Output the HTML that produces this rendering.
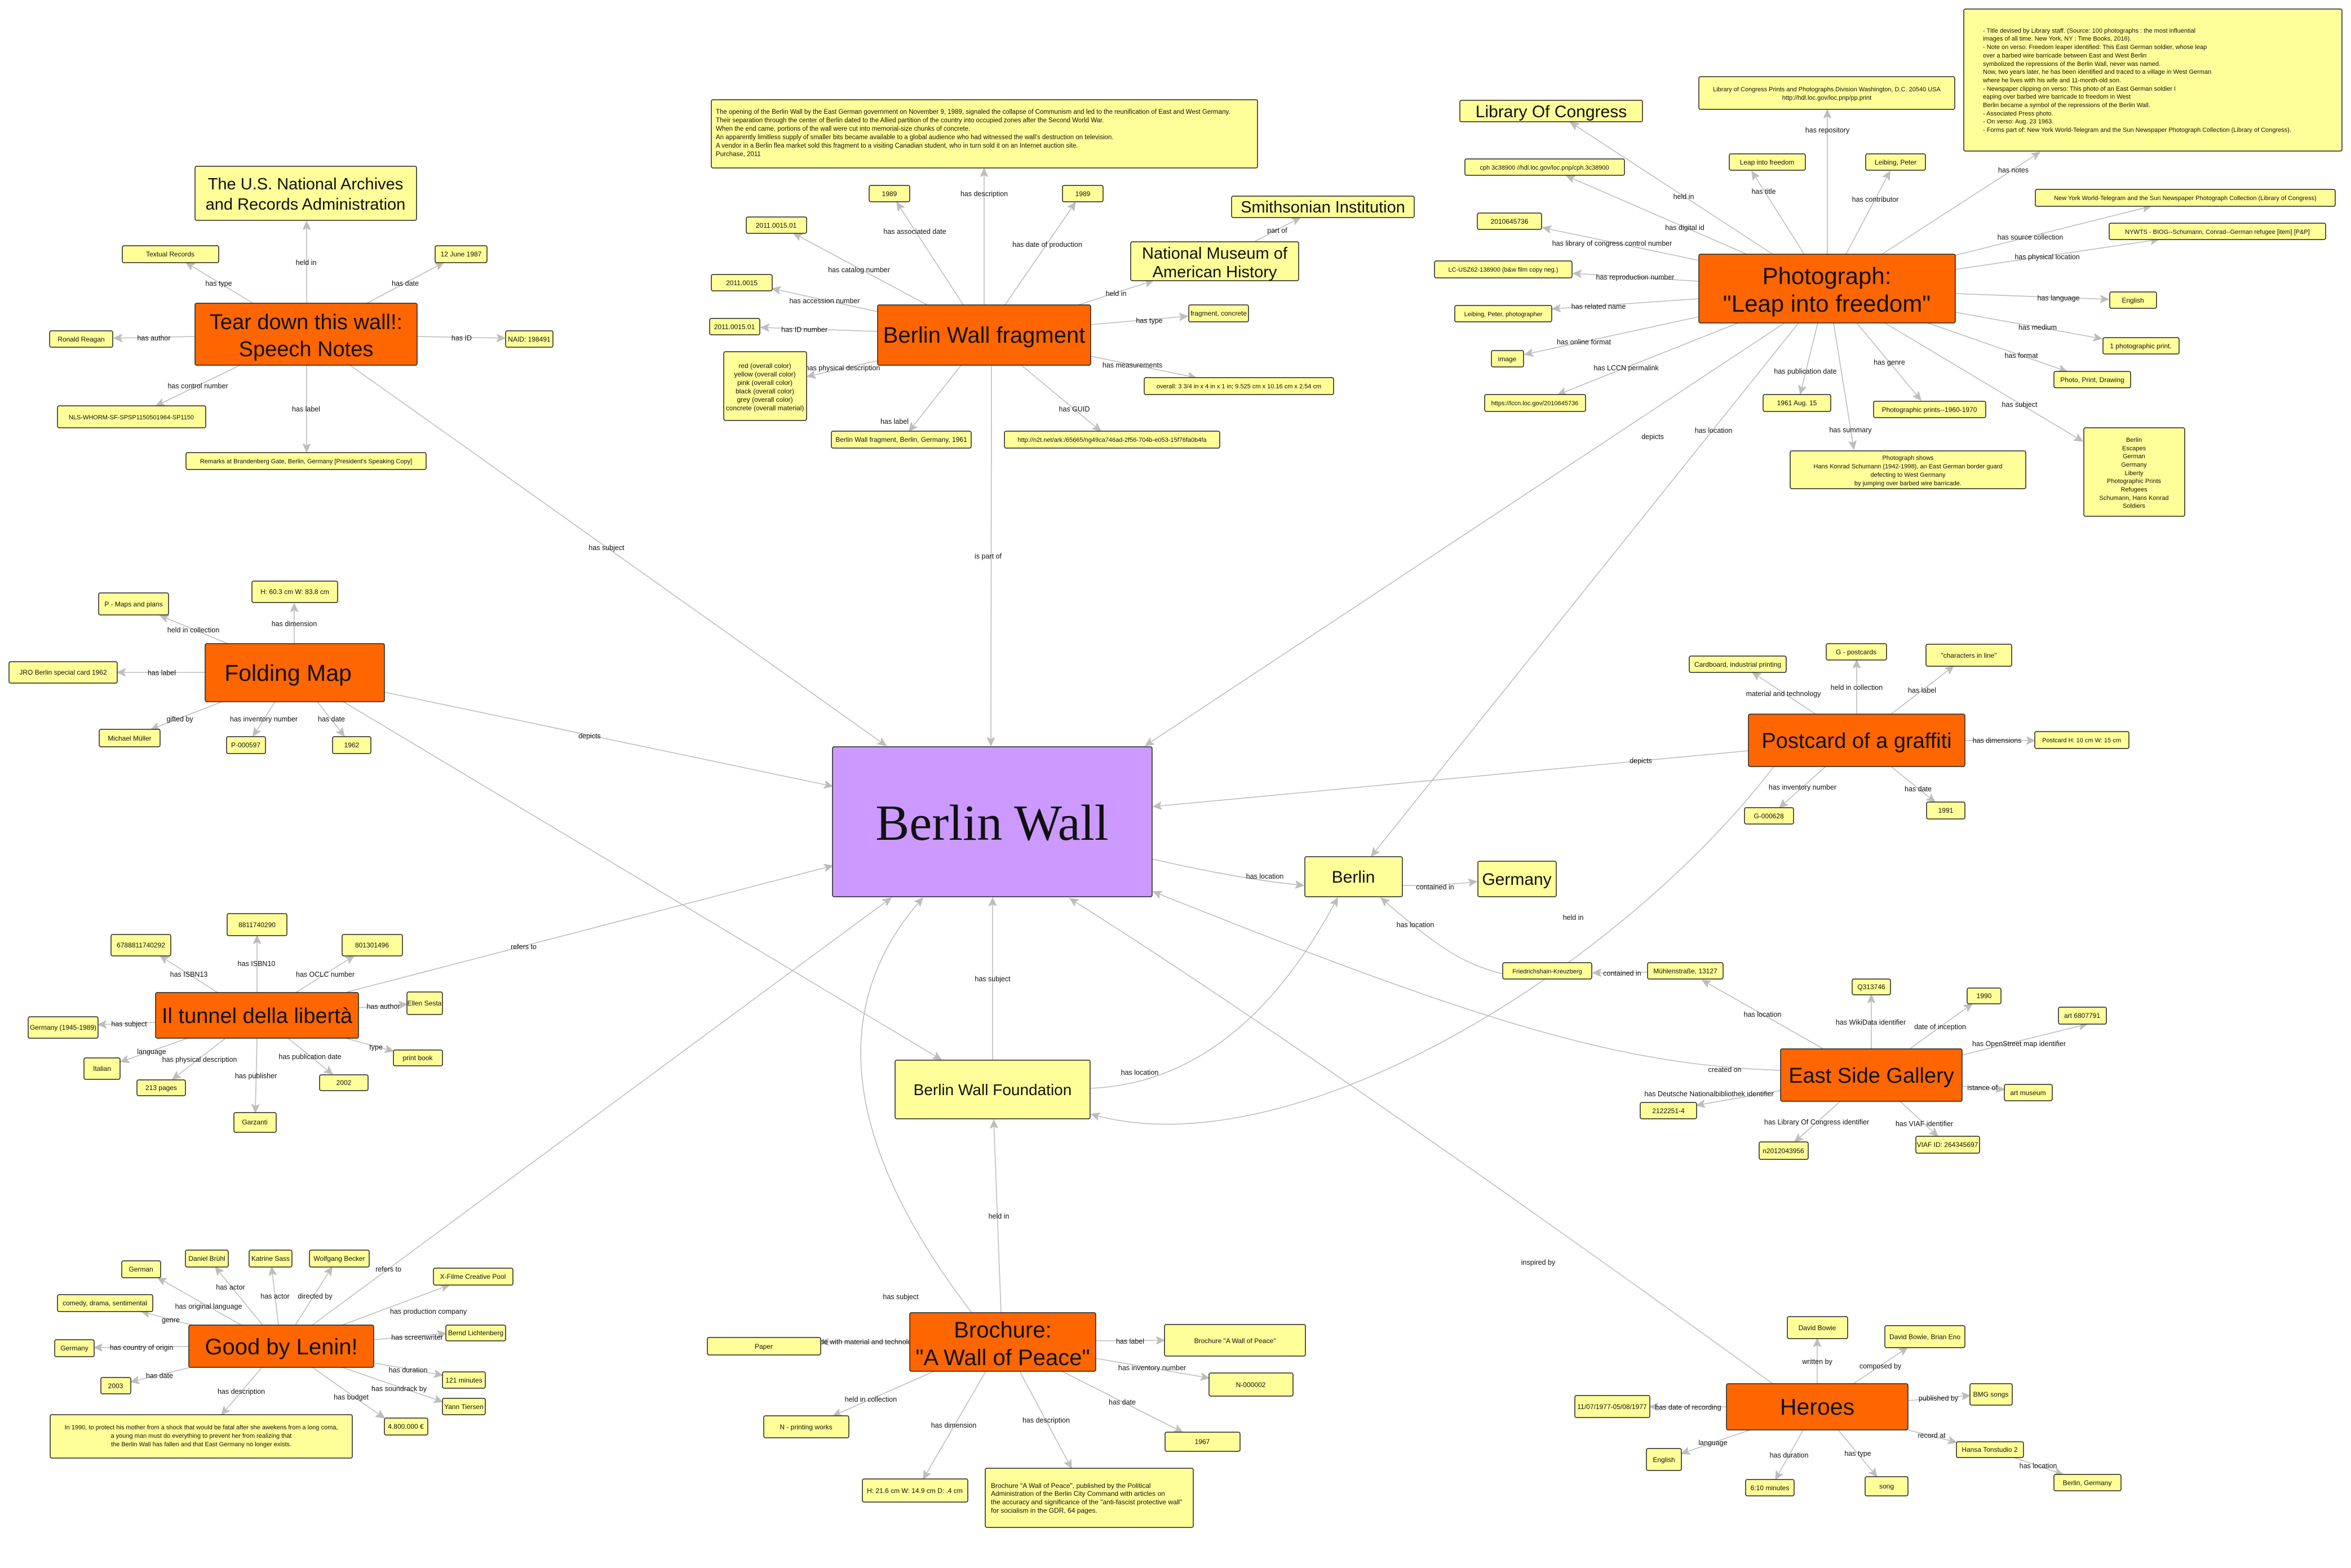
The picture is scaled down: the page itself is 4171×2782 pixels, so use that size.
<!DOCTYPE html>
<html><head><meta charset="utf-8"><style>
html,body{margin:0;padding:0;background:#fff}
svg{display:block}
.e line,.e path{stroke:#bdbdbd;stroke-width:1.6;fill:none;marker-end:url(#a)}
.y{fill:#ffff99;stroke:#222;stroke-width:1.5}
.o{fill:#ff6600;stroke:#222;stroke-width:1.5}
.p{fill:#cc99ff;stroke:#222;stroke-width:1.5}
text{font-family:"Liberation Sans",Arial,sans-serif;fill:#111}
.s{font-size:12px;text-anchor:middle}
.l{font-size:12.5px;text-anchor:middle;fill:#333}
.t{font-size:11px}
.c{text-anchor:middle}
</style></head><body>
<svg width="4171" height="2782" viewBox="0 0 4171 2782" xmlns="http://www.w3.org/2000/svg">
<defs><marker id="a" viewBox="0 0 12 12" refX="11" refY="6" markerWidth="16" markerHeight="16" markerUnits="userSpaceOnUse" orient="auto"><path d="M0,1 L11,6 L0,11 L3,6 Z" fill="#bdbdbd" stroke="#bdbdbd" stroke-width="1"/></marker></defs>

<!-- EDGES -->
<g class="e">
<!-- Tear down -->
<line x1="544" y1="538" x2="544" y2="393"/>
<line x1="449" y1="538" x2="330" y2="466"/>
<line x1="651" y1="538" x2="787" y2="466"/>
<line x1="346" y1="597" x2="202" y2="600"/>
<line x1="740" y1="597" x2="896" y2="600"/>
<line x1="426" y1="648" x2="277" y2="720"/>
<line x1="544" y1="648" x2="544" y2="802"/>
<line x1="621" y1="648" x2="1572" y2="1323"/>
<!-- fragment -->
<line x1="1746" y1="541" x2="1746" y2="299"/>
<line x1="1709" y1="541" x2="1591" y2="359"/>
<line x1="1783" y1="541" x2="1908" y2="359"/>
<line x1="1645" y1="541" x2="1408" y2="414"/>
<line x1="1557" y1="553" x2="1370" y2="512"/>
<line x1="1557" y1="588" x2="1350" y2="581"/>
<line x1="1557" y1="640" x2="1432" y2="668"/>
<line x1="1705" y1="648" x2="1613" y2="765"/>
<line x1="1812" y1="648" x2="1953" y2="765"/>
<line x1="1935" y1="632" x2="2122" y2="670"/>
<line x1="1935" y1="576" x2="2107" y2="561"/>
<line x1="1913" y1="541" x2="2046" y2="498"/>
<line x1="2225" y1="429" x2="2307" y2="386"/>
<line x1="1759" y1="648" x2="1758" y2="1323"/>
<!-- photograph -->
<line x1="3145" y1="451" x2="2786" y2="217"/>
<line x1="3201" y1="451" x2="3108" y2="304"/>
<line x1="3242" y1="451" x2="3242" y2="195"/>
<line x1="3275" y1="451" x2="3353" y2="304"/>
<line x1="3339" y1="451" x2="3619" y2="270"/>
<line x1="3099" y1="451" x2="2779" y2="312"/>
<line x1="3014" y1="462" x2="2737" y2="404"/>
<line x1="3014" y1="499" x2="2791" y2="485"/>
<line x1="3014" y1="530" x2="2754" y2="548"/>
<line x1="3014" y1="562" x2="2705" y2="629"/>
<line x1="3084" y1="573" x2="2764" y2="700"/>
<line x1="3225" y1="573" x2="3194" y2="699"/>
<line x1="3294" y1="573" x2="3408" y2="710"/>
<line x1="3253" y1="573" x2="3289" y2="797"/>
<line x1="3344" y1="573" x2="3695" y2="783"/>
<line x1="3420" y1="573" x2="3667" y2="659"/>
<line x1="3469" y1="554" x2="3729" y2="601"/>
<line x1="3469" y1="521" x2="3741" y2="531"/>
<line x1="3469" y1="478" x2="3830" y2="425"/>
<line x1="3469" y1="453" x2="3816" y2="366"/>
<line x1="3166" y1="573" x2="2032" y2="1323"/>
<line x1="3191" y1="573" x2="2433" y2="1519"/>
<!-- folding map -->
<line x1="404" y1="1142" x2="284" y2="1092"/>
<line x1="522" y1="1142" x2="522" y2="1071"/>
<line x1="364" y1="1193" x2="208" y2="1193"/>
<line x1="394" y1="1245" x2="268" y2="1294"/>
<line x1="488" y1="1245" x2="449" y2="1306"/>
<line x1="563" y1="1245" x2="611" y2="1306"/>
<line x1="682" y1="1228" x2="1477" y2="1395"/>
<line x1="609" y1="1245" x2="1670" y2="1880"/>
<!-- il tunnel -->
<line x1="386" y1="1761" x2="284" y2="1696"/>
<line x1="456" y1="1761" x2="456" y2="1660"/>
<line x1="525" y1="1761" x2="628" y2="1696"/>
<line x1="636" y1="1788" x2="722" y2="1782"/>
<line x1="276" y1="1814" x2="174" y2="1818"/>
<line x1="333" y1="1842" x2="214" y2="1884"/>
<line x1="400" y1="1842" x2="306" y2="1915"/>
<line x1="456" y1="1842" x2="453" y2="1974"/>
<line x1="511" y1="1842" x2="590" y2="1906"/>
<line x1="613" y1="1842" x2="698" y2="1865"/>
<line x1="616" y1="1760" x2="1477" y2="1536"/>
<!-- lenin -->
<line x1="428" y1="2351" x2="280" y2="2267"/>
<line x1="466" y1="2351" x2="382" y2="2248"/>
<line x1="494" y1="2351" x2="482" y2="2248"/>
<line x1="524" y1="2351" x2="589" y2="2248"/>
<line x1="607" y1="2351" x2="797" y2="2280"/>
<line x1="663" y1="2377" x2="791" y2="2366"/>
<line x1="335" y1="2389" x2="167" y2="2391"/>
<line x1="340" y1="2351" x2="251" y2="2327"/>
<line x1="338" y1="2426" x2="232" y2="2452"/>
<line x1="465" y1="2426" x2="393" y2="2510"/>
<line x1="663" y1="2418" x2="785" y2="2440"/>
<line x1="607" y1="2426" x2="785" y2="2487"/>
<line x1="554" y1="2426" x2="682" y2="2516"/>
<line x1="554" y1="2351" x2="1581" y2="1593"/>
<!-- brochure -->
<line x1="1614" y1="2381" x2="1456" y2="2381"/>
<line x1="1944" y1="2379" x2="2066" y2="2378"/>
<line x1="1944" y1="2410" x2="2145" y2="2445"/>
<line x1="1657" y1="2433" x2="1478" y2="2512"/>
<line x1="1749" y1="2433" x2="1638" y2="2624"/>
<line x1="1809" y1="2433" x2="1901" y2="2605"/>
<line x1="1884" y1="2433" x2="2098" y2="2541"/>
<line x1="1776" y1="2329" x2="1763" y2="1987"/>
<path d="M1724 2329 Q1380 1880 1637 1593"/>
<line x1="1761" y1="1881" x2="1761" y2="1593"/>
<!-- heroes -->
<line x1="3224" y1="2455" x2="3224" y2="2375"/>
<line x1="3288" y1="2455" x2="3384" y2="2391"/>
<line x1="3385" y1="2485" x2="3495" y2="2476"/>
<line x1="3063" y1="2496" x2="2927" y2="2496"/>
<line x1="3105" y1="2537" x2="2983" y2="2579"/>
<line x1="3199" y1="2537" x2="3150" y2="2625"/>
<line x1="3261" y1="2537" x2="3330" y2="2620"/>
<line x1="3385" y1="2537" x2="3471" y2="2559"/>
<line x1="3573" y1="2586" x2="3660" y2="2616"/>
<path d="M3145 2455 Q2320 1860 1898 1594"/>
<!-- postcard -->
<line x1="3221" y1="1267" x2="3109" y2="1193"/>
<line x1="3294" y1="1267" x2="3294" y2="1171"/>
<line x1="3355" y1="1267" x2="3466" y2="1182"/>
<line x1="3486" y1="1314" x2="3610" y2="1314"/>
<line x1="3239" y1="1360" x2="3157" y2="1433"/>
<line x1="3355" y1="1360" x2="3433" y2="1423"/>
<line x1="3102" y1="1332" x2="2046" y2="1431"/>
<path d="M3147 1360 C2880 1710 2300 2080 1936 1977"/>
<!-- ESG -->
<line x1="3320" y1="1861" x2="3320" y2="1765"/>
<line x1="3388" y1="1861" x2="3499" y2="1781"/>
<line x1="3481" y1="1872" x2="3703" y2="1817"/>
<line x1="3481" y1="1927" x2="3556" y2="1933"/>
<line x1="3159" y1="1935" x2="3010" y2="1961"/>
<line x1="3265" y1="1954" x2="3184" y2="2026"/>
<line x1="3371" y1="1954" x2="3438" y2="2016"/>
<line x1="3235" y1="1861" x2="3020" y2="1739"/>
<path d="M3159 1899 C2880 1890 2640 1820 2046 1582"/>
<!-- berlin -->
<line x1="2923" y1="1725" x2="2826" y2="1726"/>
<path d="M2666 1728 C2600 1710 2560 1690 2450 1593"/>
<path d="M2487 1571 Q2560 1572 2620 1564"/>
<path d="M2044 1524 Q2200 1560 2313 1571"/>
<path d="M1934 1931 Q2200 1920 2373 1593"/>
</g>

<!-- EDGE LABELS -->
<g class="l">
<text x="543" y="470">held in</text><text x="388" y="507">has type</text><text x="719" y="507">has date</text>
<text x="273" y="604">has author</text><text x="819" y="604">has ID</text><text x="351" y="689">has control number</text>
<text x="543" y="730">has label</text><text x="1076" y="976">has subject</text>
<text x="1746" y="348">has description</text><text x="1623" y="415">has associated date</text><text x="1858" y="438">has date of production</text>
<text x="1524" y="483">has catalog number</text><text x="2266" y="413">part of</text><text x="1980" y="525">held in</text>
<text x="1463" y="538">has accession number</text><text x="2039" y="573">has type</text><text x="1427" y="589">has ID number</text>
<text x="1495" y="657">has physical description</text><text x="2009" y="652">has measurements</text><text x="1906" y="730">has GUID</text>
<text x="1587" y="752">has label</text><text x="1753" y="991">is part of</text>
<text x="2987" y="353">held in</text><text x="3129" y="344">has title</text><text x="3242" y="235">has repository</text>
<text x="3327" y="358">has contributor</text><text x="3572" y="306">has notes</text><text x="2989" y="408">has digital id</text>
<text x="2860" y="436">has library of congress control number</text><text x="3602" y="425">has source collection</text>
<text x="3632" y="460">has physical location</text><text x="2901" y="496">has reproduction number</text>
<text x="2836" y="548">has related name</text><text x="3652" y="533">has language</text><text x="3615" y="585">has medium</text>
<text x="2810" y="611">has online format</text><text x="3586" y="635">has format</text><text x="2885" y="657">has LCCN permalink</text>
<text x="3203" y="663">has publication date</text><text x="3352" y="647">has genre</text><text x="3583" y="722">has subject</text>
<text x="3283" y="767">has summary</text><text x="3040" y="768">has location</text><text x="2932" y="779">depicts</text>
<text x="343" y="1122">held in collection</text><text x="522" y="1111">has dimension</text><text x="287" y="1198">has label</text>
<text x="319" y="1280">gifted by</text><text x="468" y="1280">has inventory number</text><text x="588" y="1280">has date</text>
<text x="1046" y="1310">depicts</text><text x="929" y="1684">refers to</text>
<text x="335" y="1733">has ISBN13</text><text x="455" y="1714">has ISBN10</text><text x="577" y="1733">has OCLC number</text>
<text x="680" y="1790">has author</text><text x="229" y="1821">has subject</text><text x="269" y="1870">language</text>
<text x="354" y="1884">has physical description</text><text x="550" y="1879">has publication date</text><text x="667" y="1862">type</text>
<text x="454" y="1913">has publisher</text>
<text x="409" y="2288">has actor</text><text x="488" y="2304">has actor</text><text x="559" y="2304">directed by</text>
<text x="689" y="2256">refers to</text><text x="370" y="2322">has original language</text><text x="303" y="2346">genre</text>
<text x="760" y="2331">has production company</text><text x="740" y="2377">has screenwriter</text><text x="251" y="2395">has country of origin</text>
<text x="283" y="2445">has date</text><text x="428" y="2473">has description</text><text x="724" y="2435">has duration</text>
<text x="708" y="2468">has soundrack by</text><text x="623" y="2483">has budget</text>
<text x="1598" y="2305">has subject</text><text x="1534" y="2385">made with material and technology</text><text x="2005" y="2384">has label</text>
<text x="2044" y="2431">has inventory number</text><text x="1545" y="2487">held in collection</text><text x="1991" y="2492">has date</text>
<text x="1856" y="2524">has description</text><text x="1692" y="2533">has dimension</text><text x="1772" y="2162">held in</text>
<text x="1761" y="1741">has subject</text>
<text x="2729" y="2244">inspired by</text><text x="3224" y="2420">written by</text><text x="3336" y="2428">composed by</text>
<text x="3439" y="2485">published by</text><text x="2995" y="2501">has date of recording</text><text x="3039" y="2564">language</text>
<text x="3174" y="2586">has duration</text><text x="3296" y="2583">has type</text><text x="3427" y="2551">record at</text>
<text x="3616" y="2605">has location</text>
<text x="3164" y="1235">material and technology</text><text x="3294" y="1224">held in collection</text><text x="3410" y="1229">has label</text>
<text x="3543" y="1318">has dimensions</text><text x="2911" y="1354">depicts</text><text x="3198" y="1401">has inventory number</text>
<text x="3403" y="1404">has date</text><text x="2546" y="1578">contained in</text><text x="2511" y="1645">has location</text>
<text x="2791" y="1632">held in</text><text x="2878" y="1731">contained in</text><text x="3127" y="1804">has location</text>
<text x="3319" y="1818">has WikiData identifier</text><text x="3442" y="1826">date of inception</text>
<text x="3582" y="1856">has OpenStreet map identifier</text><text x="3060" y="1902">created on</text><text x="3517" y="1934">istance of</text>
<text x="3032" y="1945">has Deutsche Nationalbibliothek identifier</text><text x="3223" y="1995">has Library Of Congress identifier</text>
<text x="3414" y="1998">has VIAF identifier</text>
<text x="2244" y="1559">has location</text><text x="2022" y="1907">has location</text>
</g>

<!-- NODES -->
<!-- Tear down group -->
<rect class="y" x="346" y="295" width="393" height="96" rx="3"/>
<text class="c" x="542" y="336" font-size="29">The U.S. National Archives</text>
<text class="c" x="542" y="372" font-size="29">and Records Administration</text>
<rect class="y" x="217" y="436" width="171" height="30" rx="3"/><text class="s" x="302" y="455">Textual Records</text>
<rect class="y" x="772" y="436" width="92" height="30" rx="3"/><text class="s" x="818" y="455">12 June 1987</text>
<rect class="o" x="346" y="538" width="394" height="110" rx="3"/>
<text class="c" x="543" y="584" font-size="38">Tear down this wall!:</text>
<text class="c" x="543" y="632" font-size="38">Speech Notes</text>
<rect class="y" x="88" y="587" width="112" height="29" rx="3"/><text class="s" x="144" y="606">Ronald Reagan</text>
<rect class="y" x="897" y="587" width="84" height="29" rx="3"/><text class="s" x="939" y="606">NAID: 198491</text>
<rect class="y" x="102" y="720" width="263" height="39" rx="3"/><text class="s t" x="233" y="744">NLS-WHORM-SF-SPSP1150501964-SP1150</text>
<rect class="y" x="330" y="803" width="426" height="30" rx="3"/><text class="s t" x="543" y="822">Remarks at Brandenberg Gate, Berlin, Germany [President's Speaking Copy]</text>

<!-- fragment group -->
<rect class="y" x="1262" y="177" width="969" height="121" rx="3"/>
<g font-size="11.5">
<text x="1270" y="202">The opening of the Berlin Wall by the East German government on November 9, 1989, signaled the collapse of Communism and led to the reunification of East and West Germany.</text>
<text x="1270" y="217">Their separation through the center of Berlin dated to the Allied partition of the country into occupied zones after the Second World War.</text>
<text x="1270" y="232">When the end came, portions of the wall were cut into memorial-size chunks of concrete.</text>
<text x="1270" y="247">An apparently limitless supply of smaller bits became available to a global audience who had witnessed the wall’s destruction on television.</text>
<text x="1270" y="262">A vendor in a Berlin flea market sold this fragment to a visiting Canadian student, who in turn sold it on an Internet auction site.</text>
<text x="1270" y="277">Purchase, 2011</text>
</g>
<rect class="y" x="1542" y="329" width="72" height="29" rx="3"/><text class="s" x="1578" y="348">1989</text>
<rect class="y" x="1885" y="329" width="72" height="29" rx="3"/><text class="s" x="1921" y="348">1989</text>
<rect class="y" x="1324" y="385" width="107" height="29" rx="3"/><text class="s" x="1377" y="404">2011.0015.01</text>
<rect class="y" x="1262" y="487" width="108" height="29" rx="3"/><text class="s" x="1316" y="506">2011.0015</text>
<rect class="y" x="1259" y="565" width="89" height="29" rx="3"/><text class="s" x="1303" y="584">2011.0015.01</text>
<rect class="y" x="1284" y="624" width="147" height="122" rx="3"/>
<g class="s"><text x="1357" y="653">red (overall color)</text><text x="1357" y="668">yellow (overall color)</text><text x="1357" y="683">pink (overall color)</text><text x="1357" y="698">black (overall color)</text><text x="1357" y="713">grey (overall color)</text><text x="1357" y="728">concrete (overall material)</text></g>
<rect class="o" x="1557" y="541" width="378" height="107" rx="3"/>
<text class="c" x="1746" y="608" font-size="40">Berlin Wall fragment</text>
<rect class="y" x="2185" y="348" width="324" height="38" rx="3"/><text class="c" x="2347" y="377" font-size="29">Smithsonian Institution</text>
<rect class="y" x="2006" y="429" width="298" height="69" rx="3"/>
<text class="c" x="2155" y="459" font-size="29">National Museum of</text><text class="c" x="2155" y="492" font-size="29">American History</text>
<rect class="y" x="2109" y="541" width="106" height="30" rx="3"/><text class="s" x="2162" y="560">fragment, concrete</text>
<rect class="y" x="2030" y="670" width="336" height="30" rx="3"/><text class="s t" x="2198" y="689">overall: 3 3/4 in x 4 in x 1 in; 9.525 cm x 10.16 cm x 2.54 cm</text>
<rect class="y" x="1475" y="765" width="248" height="30" rx="3"/><text class="s" x="1599" y="784">Berlin Wall fragment, Berlin, Germany, 1961</text>
<rect class="y" x="1782" y="765" width="382" height="30" rx="3"/><text class="s t" x="1973" y="784">http://n2t.net/ark:/65665/ng49ca746ad-2f56-704b-e053-15f76fa0b4fa</text>

<!-- photograph group -->
<rect class="y" x="2590" y="178" width="324" height="38" rx="3"/><text class="c" x="2752" y="208" font-size="30">Library Of Congress</text>
<rect class="y" x="3014" y="136" width="454" height="58" rx="3"/>
<text class="s t" x="3241" y="162">Library of Congress Prints and Photographs Division Washington, D.C. 20540 USA</text>
<text class="s t" x="3241" y="177">http://hdl.loc.gov/loc.pnp/pp.print</text>
<rect class="y" x="3484" y="16" width="671" height="252" rx="3"/>
<g font-size="11">
<text x="3518" y="58">-  Title devised by Library staff. (Source: 100 photographs : the most influential</text>
<text x="3518" y="72"> images of all time. New York, NY : Time Books, 2016).</text>
<text x="3518" y="87">-  Note on verso: Freedom leaper identified: This East German soldier, whose leap</text>
<text x="3518" y="102">over a barbed wire barricade between East and West Berlin</text>
<text x="3518" y="117"> symbolized the repressions of the Berlin Wall, never was named.</text>
<text x="3518" y="131">Now, two years later, he has been identified and traced to a village in West German</text>
<text x="3518" y="146"> where he lives with his wife and 11-month-old son.</text>
<text x="3518" y="161">-  Newspaper clipping on verso: This photo of an East German soldier l</text>
<text x="3518" y="175">eaping over barbed wire barricade to freedom in West</text>
<text x="3518" y="190">Berlin became a symbol of the repressions of the Berlin Wall.</text>
<text x="3518" y="205">-  Associated Press photo.</text>
<text x="3518" y="219">-  On verso: Aug. 23 1963.</text>
<text x="3518" y="234">-  Forms part of: New York World-Telegram and the Sun Newspaper Photograph Collection (Library of Congress).</text>
</g>
<rect class="y" x="2599" y="282" width="283" height="29" rx="3"/><text class="s t" x="2740" y="301">cph 3c38900 //hdl.loc.gov/loc.pnp/cph.3c38900</text>
<rect class="y" x="3068" y="273" width="135" height="29" rx="3"/><text class="s" x="3135" y="292">Leap into freedom</text>
<rect class="y" x="3310" y="273" width="106" height="29" rx="3"/><text class="s" x="3363" y="292">Leibing, Peter</text>
<rect class="y" x="2621" y="378" width="114" height="29" rx="3"/><text class="s" x="2678" y="397">2010645736</text>
<rect class="y" x="3611" y="336" width="532" height="30" rx="3"/><text class="s t" x="3877" y="355">New York World-Telegram and the Sun Newspaper Photograph Collection (Library of Congress)</text>
<rect class="y" x="3742" y="396" width="384" height="29" rx="3"/><text class="s t" x="3934" y="415">NYWTS - BIOG--Schumann, Conrad--German refugee [item] [P&amp;P]</text>
<rect class="y" x="2545" y="463" width="244" height="30" rx="3"/><text class="s t" x="2667" y="482">LC-USZ62-138900 (b&amp;w film copy neg.)</text>
<rect class="o" x="3014" y="451" width="455" height="122" rx="3"/>
<text class="c" x="3241" y="504" font-size="42">Photograph:</text>
<text class="c" x="3241" y="553" font-size="42">"Leap into freedom"</text>
<rect class="y" x="2581" y="542" width="172" height="29" rx="3"/><text class="s t" x="2667" y="561">Leibing, Peter, photographer</text>
<rect class="y" x="3743" y="518" width="83" height="29" rx="3"/><text class="s" x="3784" y="537">English</text>
<rect class="y" x="3731" y="599" width="135" height="29" rx="3"/><text class="s" x="3798" y="618">1 photographic print.</text>
<rect class="y" x="2646" y="622" width="57" height="29" rx="3"/><text class="s" x="2674" y="641">image</text>
<rect class="y" x="3644" y="659" width="136" height="29" rx="3"/><text class="s" x="3712" y="678">Photo, Print, Drawing</text>
<rect class="y" x="2634" y="700" width="179" height="30" rx="3"/><text class="s t" x="2723" y="719">https://lccn.loc.gov/2010645736</text>
<rect class="y" x="3128" y="700" width="120" height="30" rx="3"/><text class="s" x="3188" y="719">1961 Aug. 15</text>
<rect class="y" x="3324" y="712" width="199" height="29" rx="3"/><text class="s" x="3423" y="731">Photographic prints--1960-1970</text>
<rect class="y" x="3176" y="800" width="418" height="67" rx="3"/>
<g class="s t"><text x="3385" y="816">Photograph shows</text><text x="3385" y="831">Hans Konrad Schumann (1942-1998), an East German border guard</text><text x="3385" y="846">defecting to West Germany</text><text x="3385" y="861">by jumping over barbed wire barricade.</text></g>
<rect class="y" x="3697" y="759" width="179" height="157" rx="3"/>
<g class="s t"><text x="3786" y="784">Berlin</text><text x="3786" y="799">Escapes</text><text x="3786" y="813">German</text><text x="3786" y="828">Germany</text><text x="3786" y="843">Liberty</text><text x="3786" y="857">Photographic Prints</text><text x="3786" y="872">Refugees</text><text x="3786" y="887">Schumann, Hans Konrad</text><text x="3786" y="901">Soldiers</text></g>

<!-- center -->
<rect class="p" x="1477" y="1325" width="567" height="266" rx="3"/>
<text x="1760" y="1490" font-size="90" text-anchor="middle" style="font-family:'Liberation Serif',serif">Berlin Wall</text>
<rect class="y" x="2315" y="1520" width="173" height="71" rx="3"/><text class="c" x="2401" y="1566" font-size="30">Berlin</text>
<rect class="y" x="2622" y="1528" width="139" height="63" rx="3"/><text class="c" x="2691" y="1570" font-size="30">Germany</text>
<rect class="y" x="1588" y="1881" width="346" height="104" rx="3"/><text class="c" x="1761" y="1943" font-size="28">Berlin Wall Foundation</text>

<!-- postcard -->
<rect class="y" x="2997" y="1164" width="172" height="29" rx="3"/><text class="s" x="3083" y="1183">Cardboard, industrial printing</text>
<rect class="y" x="3240" y="1142" width="107" height="29" rx="3"/><text class="s" x="3293" y="1161">G - postcards</text>
<rect class="y" x="3417" y="1143" width="152" height="39" rx="3"/><text class="s" x="3493" y="1167">"characters in line"</text>
<rect class="o" x="3102" y="1267" width="384" height="93" rx="3"/><text class="c" x="3294" y="1327" font-size="38">Postcard of a graffiti</text>
<rect class="y" x="3610" y="1298" width="167" height="30" rx="3"/><text class="s t" x="3693" y="1317">Postcard H: 10 cm W: 15 cm</text>
<rect class="y" x="3095" y="1433" width="87" height="29" rx="3"/><text class="s" x="3138" y="1452">G-000628</text>
<rect class="y" x="3418" y="1423" width="68" height="30" rx="3"/><text class="s" x="3452" y="1442">1991</text>

<!-- ESG -->
<rect class="y" x="2666" y="1708" width="158" height="29" rx="3"/><text class="s t" x="2745" y="1727">Friedrichshain-Kreuzberg</text>
<rect class="y" x="2923" y="1708" width="134" height="29" rx="3"/><text class="s" x="2990" y="1727">Mühlenstraße, 13127</text>
<rect class="y" x="3286" y="1737" width="68" height="28" rx="3"/><text class="s" x="3320" y="1755">Q313746</text>
<rect class="y" x="3490" y="1753" width="60" height="28" rx="3"/><text class="s" x="3520" y="1771">1990</text>
<rect class="y" x="3652" y="1787" width="85" height="30" rx="3"/><text class="s" x="3694" y="1806">art 6807791</text>
<rect class="o" x="3159" y="1861" width="322" height="93" rx="3"/><text class="c" x="3320" y="1921" font-size="38">East Side Gallery</text>
<rect class="y" x="3556" y="1924" width="85" height="29" rx="3"/><text class="s" x="3598" y="1943">art museum</text>
<rect class="y" x="2910" y="1956" width="100" height="29" rx="3"/><text class="s" x="2960" y="1975">2122251-4</text>
<rect class="y" x="3121" y="2026" width="87" height="31" rx="3"/><text class="s" x="3164" y="2046">n2012043956</text>
<rect class="y" x="3399" y="2016" width="113" height="30" rx="3"/><text class="s" x="3455" y="2035">VIAF ID: 264345697</text>

<!-- folding map -->
<rect class="y" x="447" y="1031" width="152" height="38" rx="3"/><text class="s" x="523" y="1054">H: 60.3 cm W: 83.8 cm</text>
<rect class="y" x="175" y="1052" width="124" height="39" rx="3"/><text class="s" x="237" y="1076">P - Maps and plans</text>
<rect class="o" x="364" y="1142" width="318" height="103" rx="3"/><text class="c" x="511" y="1208" font-size="41">Folding Map</text>
<rect class="y" x="16" y="1174" width="192" height="38" rx="3"/><text class="s" x="112" y="1197">JRO Berlin special card 1962</text>
<rect class="y" x="176" y="1294" width="108" height="31" rx="3"/><text class="s" x="230" y="1314">Michael Müller</text>
<rect class="y" x="402" y="1307" width="69" height="30" rx="3"/><text class="s" x="436" y="1326">P-000597</text>
<rect class="y" x="590" y="1307" width="68" height="30" rx="3"/><text class="s" x="624" y="1326">1962</text>

<!-- il tunnel -->
<rect class="y" x="403" y="1621" width="106" height="39" rx="3"/><text class="s" x="456" y="1645">8811740290</text>
<rect class="y" x="197" y="1658" width="106" height="38" rx="3"/><text class="s" x="250" y="1681">6788811740292</text>
<rect class="y" x="607" y="1658" width="107" height="38" rx="3"/><text class="s" x="660" y="1681">801301496</text>
<rect class="o" x="276" y="1761" width="360" height="81" rx="3"/><text class="c" x="456" y="1815" font-size="38">Il tunnel della libertà</text>
<rect class="y" x="722" y="1760" width="63" height="40" rx="3"/><text class="s" x="753" y="1784">Ellen Sesta</text>
<rect class="y" x="50" y="1804" width="124" height="38" rx="3"/><text class="s" x="112" y="1827">Germany (1945-1989)</text>
<rect class="y" x="698" y="1863" width="87" height="28" rx="3"/><text class="s" x="741" y="1881">print book</text>
<rect class="y" x="149" y="1877" width="64" height="38" rx="3"/><text class="s" x="181" y="1900">Italian</text>
<rect class="y" x="243" y="1916" width="86" height="28" rx="3"/><text class="s" x="286" y="1934">213 pages</text>
<rect class="y" x="567" y="1907" width="86" height="28" rx="3"/><text class="s" x="610" y="1925">2002</text>
<rect class="y" x="415" y="1974" width="75" height="35" rx="3"/><text class="s" x="452" y="1995">Garzanti</text>

<!-- lenin -->
<rect class="y" x="216" y="2237" width="69" height="30" rx="3"/><text class="s" x="250" y="2256">German</text>
<rect class="y" x="329" y="2218" width="76" height="30" rx="3"/><text class="s" x="367" y="2237">Daniel Brühl</text>
<rect class="y" x="442" y="2218" width="76" height="30" rx="3"/><text class="s" x="480" y="2237">Katrine Sass</text>
<rect class="y" x="549" y="2218" width="106" height="30" rx="3"/><text class="s" x="602" y="2237">Wolfgang Becker</text>
<rect class="y" x="769" y="2250" width="141" height="30" rx="3"/><text class="s" x="839" y="2269">X-Filme Creative Pool</text>
<rect class="y" x="102" y="2297" width="169" height="30" rx="3"/><text class="s" x="186" y="2316">comedy, drama, sentimental</text>
<rect class="y" x="791" y="2351" width="106" height="28" rx="3"/><text class="s" x="844" y="2369">Bernd Lichtenberg</text>
<rect class="y" x="97" y="2377" width="70" height="30" rx="3"/><text class="s" x="132" y="2396">Germany</text>
<rect class="o" x="335" y="2351" width="328" height="75" rx="3"/><text class="c" x="499" y="2403" font-size="40">Good by Lenin!</text>
<rect class="y" x="179" y="2444" width="53" height="29" rx="3"/><text class="s" x="205" y="2463">2003</text>
<rect class="y" x="785" y="2434" width="76" height="29" rx="3"/><text class="s" x="823" y="2453">121 minutes</text>
<rect class="y" x="785" y="2481" width="76" height="29" rx="3"/><text class="s" x="823" y="2500">Yann Tiersen</text>
<rect class="y" x="682" y="2516" width="77" height="30" rx="3"/><text class="s" x="720" y="2535">4.800.000 €</text>
<rect class="y" x="89" y="2510" width="536" height="77" rx="3"/>
<g class="s t"><text x="357" y="2536">In 1990, to protect his mother from a shock that would be fatal after she awekens from a long coma,</text><text x="357" y="2551">a young man must do everything to prevent her from realizing that</text><text x="357" y="2566">the Berlin Wall has fallen and that East Germany no longer exists.</text></g>

<!-- brochure -->
<rect class="y" x="1255" y="2373" width="201" height="31" rx="3"/><text class="s" x="1355" y="2393">Paper</text>
<rect class="o" x="1614" y="2329" width="330" height="104" rx="3"/>
<text class="c" x="1779" y="2373" font-size="40">Brochure:</text>
<text class="c" x="1779" y="2422" font-size="40">"A Wall of Peace"</text>
<rect class="y" x="2066" y="2350" width="250" height="56" rx="3"/><text class="s" x="2191" y="2383">Brochure "A Wall of Peace"</text>
<rect class="y" x="2145" y="2436" width="149" height="41" rx="3"/><text class="s" x="2219" y="2461">N-000002</text>
<rect class="y" x="1355" y="2512" width="151" height="39" rx="3"/><text class="s" x="1430" y="2536">N - printing works</text>
<rect class="y" x="2067" y="2541" width="133" height="34" rx="3"/><text class="s" x="2133" y="2562">1967</text>
<rect class="y" x="1530" y="2624" width="187" height="41" rx="3"/><text class="s" x="1623" y="2649">H: 21.6 cm W: 14.9 cm D: .4 cm</text>
<rect class="y" x="1748" y="2605" width="369" height="105" rx="3"/>
<g font-size="12"><text x="1758" y="2640">Brochure "A Wall of Peace", published by the Political</text><text x="1758" y="2654">Administration of the Berlin City Command with articles on</text><text x="1758" y="2669">the accuracy and significance of the "anti-fascist protective wall"</text><text x="1758" y="2684">for socialism in the GDR, 64 pages.</text></g>

<!-- heroes -->
<rect class="y" x="3171" y="2336" width="107" height="39" rx="3"/><text class="s" x="3224" y="2360">David Bowie</text>
<rect class="y" x="3344" y="2352" width="142" height="39" rx="3"/><text class="s" x="3415" y="2376">David Bowie, Brian Eno</text>
<rect class="o" x="3063" y="2455" width="322" height="82" rx="3"/><text class="c" x="3224" y="2510" font-size="41">Heroes</text>
<rect class="y" x="3495" y="2455" width="75" height="38" rx="3"/><text class="s" x="3532" y="2478">BMG songs</text>
<rect class="y" x="2794" y="2476" width="133" height="39" rx="3"/><text class="s" x="2860" y="2500">11/07/1977-05/08/1977</text>
<rect class="y" x="2921" y="2570" width="62" height="39" rx="3"/><text class="s" x="2952" y="2594">English</text>
<rect class="y" x="3471" y="2558" width="119" height="28" rx="3"/><text class="s" x="3530" y="2576">Hansa Tonstudio 2</text>
<rect class="y" x="3097" y="2625" width="86" height="29" rx="3"/><text class="s" x="3140" y="2644">6:10 minutes</text>
<rect class="y" x="3309" y="2620" width="76" height="34" rx="3"/><text class="s" x="3347" y="2641">song</text>
<rect class="y" x="3644" y="2616" width="119" height="29" rx="3"/><text class="s" x="3703" y="2635">Berlin, Germany</text>
</svg>
</body></html>
